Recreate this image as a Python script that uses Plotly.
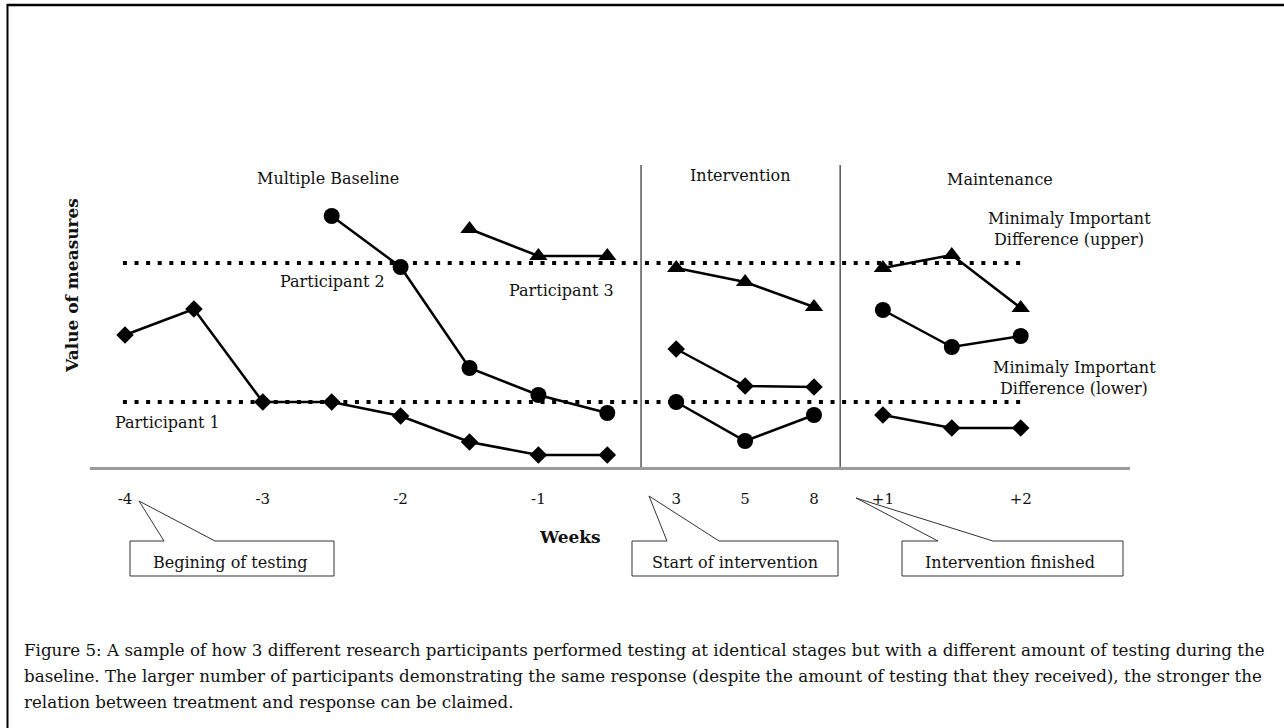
import plotly.graph_objects as go

# ---------------- data ----------------
# x positions are the measurement slots (0..13) along the weeks axis
tick_slots = [0, 2, 4, 6, 8, 9, 10, 11, 13]
tick_labels = ["-4", "-3", "-2", "-1", "3", "5", "8", "+1", "+2"]

# Participant 1 (diamonds) : baseline slots 0-7, intervention 8-10, maintenance 11-13
p1_base = [13.2, 15.8, 6.5, 6.5, 5.1, 2.5, 1.2, 1.2]
p1_int = [11.8, 8.1, 8.0]
p1_main = [5.2, 3.9, 3.9]

# Participant 2 (circles) : baseline slots 3-7
p2_base = [25.1, 20.0, 9.9, 7.2, 5.4]
p2_int = [6.5, 2.6, 5.2]
p2_main = [15.7, 12.0, 13.1]

# Participant 3 (triangles) : baseline slots 5-7
p3_base = [23.8, 21.1, 21.1]
p3_int = [19.9, 18.5, 16.0]
p3_main = [19.9, 21.2, 15.9]

mid_upper = 20.4
mid_lower = 6.5
phase_breaks = [7.49, 10.38]
phase_top = 30.2

# ---------------- geometry helpers ----------------
W, H = 1284, 728
L, R, T, B = 90, 1284 - 1130, 103, 728 - 467
PW, PH = W - L - R, H - T - B
X0, DX = 125.0, 68.9
XMIN, XMAX = (L - X0) / DX, (W - R - X0) / DX
YMAX = (H - B - T) / 10.0


def ppx(px):
    return (px - L) / PW


def ppy(py):
    return (H - B - py) / PH


def series(start, base, inter, main):
    xs, ys = [], []
    xs += list(range(start, start + len(base)))
    ys += base
    xs.append(None); ys.append(None)
    xs += [8, 9, 10]
    ys += inter
    xs.append(None); ys.append(None)
    xs += [11, 12, 13]
    ys += main
    return xs, ys


FONT = "DejaVu Serif"
fig = go.Figure()

for name, start, b, i, m, sym, size in [
    ("Participant 1", 0, p1_base, p1_int, p1_main, "diamond", 13.5),
    ("Participant 2", 3, p2_base, p2_int, p2_main, "circle", 16),
    ("Participant 3", 5, p3_base, p3_int, p3_main, "triangle-up", 16),
]:
    xs, ys = series(start, b, i, m)
    fig.add_trace(go.Scatter(
        x=xs, y=ys, mode="lines+markers", name=name,
        line=dict(color="black", width=2.5),
        marker=dict(symbol=sym, size=size, color="black"),
        cliponaxis=False, showlegend=False, connectgaps=False,
    ))

shapes = []
# minimal important difference dotted lines
for yv in (mid_upper, mid_lower):
    shapes.append(dict(type="line", xref="x", yref="y", x0=-0.03, x1=13.07,
                       y0=yv, y1=yv,
                       line=dict(color="black", width=4, dash="4px,7.6px")))
# phase separators
for xb in phase_breaks:
    shapes.append(dict(type="line", xref="x", yref="y", x0=xb, x1=xb,
                       y0=0, y1=phase_top, line=dict(color="#555555", width=1.5)))

# callout boxes (pixel geometry converted to paper coords)
callouts = [
    # box left, right, top, bottom, base1, base2, tip(x,y)
    (130, 334, 541, 576, 164, 215, (139, 501)),
    (632, 838, 541, 576, 667, 719, (649, 496)),
    (902, 1123, 541, 576, 938, 993, (856, 498)),
]
for (bl, br, bt, bb, b1, b2, (tx, ty)) in callouts:
    pts = [(bl, bt), (b1, bt), (tx, ty), (b2, bt), (br, bt), (br, bb), (bl, bb)]
    path = "M " + " L ".join(f"{ppx(a):.5f},{ppy(c):.5f}" for a, c in pts) + " Z"
    shapes.append(dict(type="path", xref="paper", yref="paper", path=path,
                       line=dict(color="#333333", width=1), fillcolor="white"))

# outer frame (top and left edges)
shapes.append(dict(type="line", xref="paper", yref="paper",
                   x0=ppx(7), x1=ppx(1284), y0=ppy(5), y1=ppy(5),
                   line=dict(color="black", width=2.5)))
shapes.append(dict(type="line", xref="paper", yref="paper",
                   x0=ppx(7.5), x1=ppx(7.5), y0=ppy(4), y1=ppy(728),
                   line=dict(color="black", width=2)))

ann = []


def label(text, px, py, size=16, bold=False, xanchor="center"):
    t = f"<b>{text}</b>" if bold else text
    ann.append(dict(x=ppx(px), y=ppy(py), xref="paper", yref="paper", text=t,
                    showarrow=False, xanchor=xanchor, yanchor="middle",
                    font=dict(family=FONT, size=size, color="#111111")))


label("Multiple Baseline", 328, 178)
label("Intervention", 740, 175)
label("Maintenance", 1000, 179)
label("Minimaly Important", 1069, 218)
label("Difference (upper)", 1069, 239)
label("Minimaly Important", 1074, 367)
label("Difference (lower)", 1074, 388)
label("Participant 2", 332, 281)
label("Participant 3", 561, 290)
label("Participant 1", 167, 422)
label("Weeks", 570, 537, size=17, bold=True)
label("Begining of testing", 230, 562)
label("Start of intervention", 735, 562)
label("Intervention finished", 1010, 562)

caption = [
    "Figure 5: A sample of how 3 different research participants performed testing at identical stages but with a different amount of testing during the",
    "baseline. The larger number of participants demonstrating the same response (despite the amount of testing that they received), the stronger the",
    "relation between treatment and response can be claimed.",
]
for line, py in zip(caption, [650, 676, 702]):
    label(line, 22, py, size=16.7, xanchor="left")

fig.update_layout(
    width=W, height=H,
    margin=dict(l=L, r=R, t=T, b=B, pad=0),
    paper_bgcolor="white", plot_bgcolor="white",
    shapes=shapes, annotations=ann,
    xaxis=dict(range=[XMIN, XMAX], showgrid=False, zeroline=False,
               showline=True, linecolor="#9a9a9a", linewidth=3,
               tickmode="array", tickvals=tick_slots, ticktext=tick_labels,
               ticks="", ticklabelstandoff=16,
               tickfont=dict(family=FONT, size=15, color="#111111"),
               fixedrange=True),
    yaxis=dict(range=[0, YMAX], showgrid=False, zeroline=False, showline=False,
               showticklabels=False, ticks="",
               title=dict(text="<b>Value of measures</b>", standoff=6,
                          font=dict(family=FONT, size=17, color="#111111")),
               fixedrange=True),
    showlegend=False,
)

fig.write_html("out.html",
               config={"displayModeBar": False},
               post_script="document.body.style.margin='0px';"
                           "document.body.style.overflow='hidden';")
